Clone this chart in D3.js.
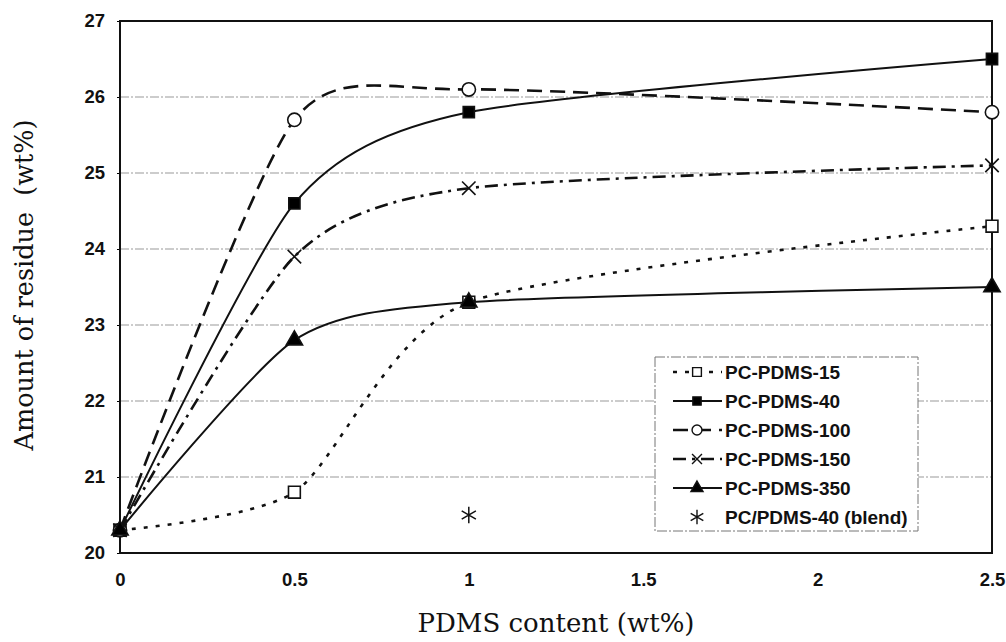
<!DOCTYPE html>
<html>
	<head>
		<title>D3 - Amount of residue</title>
		<script src="https://d3js.org/d3.v7.min.js"></script>
		<style>
			body { margin: 0; background: #fff; }
		</style>
	</head>

	<body>

		<svg width="1006" height="642">
		</svg>

        <script type="text/javascript">

			// data
			var pdmsContent = [0, 0.5, 1, 2.5];
			var seriesNames = ["PC-PDMS-15", "PC-PDMS-40", "PC-PDMS-100", "PC-PDMS-150", "PC-PDMS-350"];
			var pcPdms15  = [20.3, 20.8, 23.3, 24.3];
			var pcPdms40  = [20.3, 24.6, 25.8, 26.5];
			var pcPdms100 = [20.3, 25.7, 26.1, 25.8];
			var pcPdms150 = [20.3, 23.9, 24.8, 25.1];
			var pcPdms350 = [20.3, 22.8, 23.3, 23.5];
			var blendX = [1];
			var blendY = [20.5];
			var xTicks = [0, 0.5, 1, 1.5, 2, 2.5];
			var yTicks = [20, 21, 22, 23, 24, 25, 26, 27];

			var svg = d3.select("svg");
			var plotLeft = 120, plotRight = 992, plotTop = 21, plotBottom = 553;

			var xScale = d3.scaleLinear().domain([0, 2.5]).range([plotLeft, plotRight]);
			var yScale = d3.scaleLinear().domain([20, 27]).range([plotBottom, plotTop]);

			var styles = [
				{values: pcPdms15,  dash: "4,8",       width: 2.6, symbol: d3.symbolSquare,   size: 140, fill: "#fff"},
				{values: pcPdms40,  dash: null,        width: 2,   symbol: d3.symbolSquare,   size: 125, fill: "#000"},
				{values: pcPdms100, dash: "15,8",      width: 2.6, symbol: d3.symbolCircle,   size: 140, fill: "#fff"},
				{values: pcPdms150, dash: "13,6,3,6",  width: 2.6, symbol: d3.symbolTimes,    size: 120, fill: "none"},
				{values: pcPdms350, dash: null,        width: 2,   symbol: d3.symbolTriangle, size: 115, fill: "#000"}
			];

			// grid lines
			svg.append("g")
				.selectAll("line")
				.data(yTicks.slice(1, -1))
				.enter().append("line")
				  .attr("x1", plotLeft).attr("x2", plotRight)
				  .attr("y1", function(d) { return yScale(d); })
				  .attr("y2", function(d) { return yScale(d); })
				  .attr("stroke", "#999")
				  .attr("stroke-width", 1)
				  .attr("stroke-dasharray", "9,2,2,2");

			// axes
			var yAxis = svg.append("g")
				.attr("transform", "translate(" + plotLeft + ",0)")
				.call(d3.axisLeft(yScale).tickValues(yTicks).tickSize(3).tickPadding(12).tickFormat(d3.format("d")));
			yAxis.select(".domain").remove();
			yAxis.selectAll("text")
				.attr("font-family", "Liberation Sans, Arial, sans-serif")
				.attr("font-weight", "bold")
				.attr("font-size", "18.5px")
				.attr("fill", "#111");

			var xAxis = svg.append("g")
				.attr("transform", "translate(0," + plotBottom + ")")
				.call(d3.axisBottom(xScale).tickValues(xTicks).tickSize(0).tickPadding(20).tickFormat(function(d) { return String(d); }));
			xAxis.select(".domain").remove();
			xAxis.selectAll("text")
				.attr("font-family", "Liberation Sans, Arial, sans-serif")
				.attr("font-weight", "bold")
				.attr("font-size", "18.5px")
				.attr("fill", "#111");

			// frame
			svg.append("rect")
				.attr("x", plotLeft).attr("y", plotTop)
				.attr("width", plotRight - plotLeft).attr("height", plotBottom - plotTop)
				.attr("fill", "none")
				.attr("stroke", "#111")
				.attr("stroke-width", 2);

			// axis titles
			svg.append("text")
				.attr("x", (plotLeft + plotRight) / 2)
				.attr("y", 632)
				.attr("text-anchor", "middle")
				.attr("font-family", "DejaVu Serif, serif")
				.attr("font-size", "26px")
				.attr("fill", "#111")
				.text("PDMS content (wt%)");

			svg.append("text")
				.attr("transform", "translate(33,285) rotate(-90)")
				.attr("text-anchor", "middle")
				.attr("font-family", "DejaVu Serif, serif")
				.attr("font-size", "25.5px")
				.attr("fill", "#111")
				.style("white-space", "pre")
				.text("Amount of residue  (wt%)");

			// legend
			var legend = svg.append("g");
			legend.append("rect")
				.attr("x", 655).attr("y", 357)
				.attr("width", 263).attr("height", 174)
				.attr("fill", "#fff")
				.attr("stroke", "#777")
				.attr("stroke-width", 1)
				.attr("stroke-dasharray", "10,2,2,2");

			// series lines, smoothed
			var lineGenerator = d3.line()
				.x(function(d, i) { return xScale(pdmsContent[i]); })
				.y(function(d) { return yScale(d); })
				.curve(d3.curveCardinal.tension(0.3));

			styles.forEach(function(s, k) {
				svg.append("path")
				  .attr("fill", "none")
				  .attr("stroke", "#111")
				  .attr("stroke-width", s.width)
				  .attr("stroke-dasharray", s.dash)
				  .attr("d", lineGenerator(s.values));

				svg.append("g")
				  .selectAll("path")
				  .data(s.values)
				  .enter().append("path")
				    .attr("transform", function(d, i) { return "translate(" + xScale(pdmsContent[i]) + "," + yScale(d) + ")"; })
				    .attr("d", d3.symbol().type(s.symbol).size(s.size))
				    .attr("fill", s.fill)
				    .attr("stroke", "#111")
				    .attr("stroke-width", 1.6);

				var ly = 372 + k * 29;
				legend.append("line")
				  .attr("x1", 673).attr("x2", 722)
				  .attr("y1", ly).attr("y2", ly)
				  .attr("stroke", "#111")
				  .attr("stroke-width", s.width)
				  .attr("stroke-dasharray", s.dash);
				legend.append("path")
				  .attr("transform", "translate(697," + ly + ")")
				  .attr("d", d3.symbol().type(s.symbol).size(s.size * 0.55))
				  .attr("fill", s.fill)
				  .attr("stroke", "#111")
				  .attr("stroke-width", 1.4);
				legend.append("text")
				  .attr("x", 725).attr("y", ly)
				  .attr("dy", "0.36em")
				  .attr("font-family", "Liberation Sans, Arial, sans-serif")
				  .attr("font-weight", "bold")
				  .attr("font-size", "19px")
				  .attr("fill", "#111")
				  .text(seriesNames[k]);
			});

			// blend point
			svg.append("g")
				.selectAll("path")
				.data(blendY)
				.enter().append("path")
				  .attr("transform", function(d, i) { return "translate(" + xScale(blendX[i]) + "," + yScale(d) + ")"; })
				  .attr("d", d3.symbol().type(d3.symbolAsterisk).size(190))
				  .attr("fill", "none")
				  .attr("stroke", "#111")
				  .attr("stroke-width", 1.5);

			var by = 372 + 5 * 29;
			legend.append("path")
				.attr("transform", "translate(697," + by + ")")
				.attr("d", d3.symbol().type(d3.symbolAsterisk).size(150))
				.attr("fill", "none")
				.attr("stroke", "#111")
				.attr("stroke-width", 1.4);
			legend.append("text")
				.attr("x", 725).attr("y", by)
				.attr("dy", "0.36em")
				.attr("font-family", "Liberation Sans, Arial, sans-serif")
				.attr("font-weight", "bold")
				.attr("font-size", "19px")
				.attr("fill", "#111")
				.text("PC/PDMS-40 (blend)");

        </script>

	</body>
</html>
